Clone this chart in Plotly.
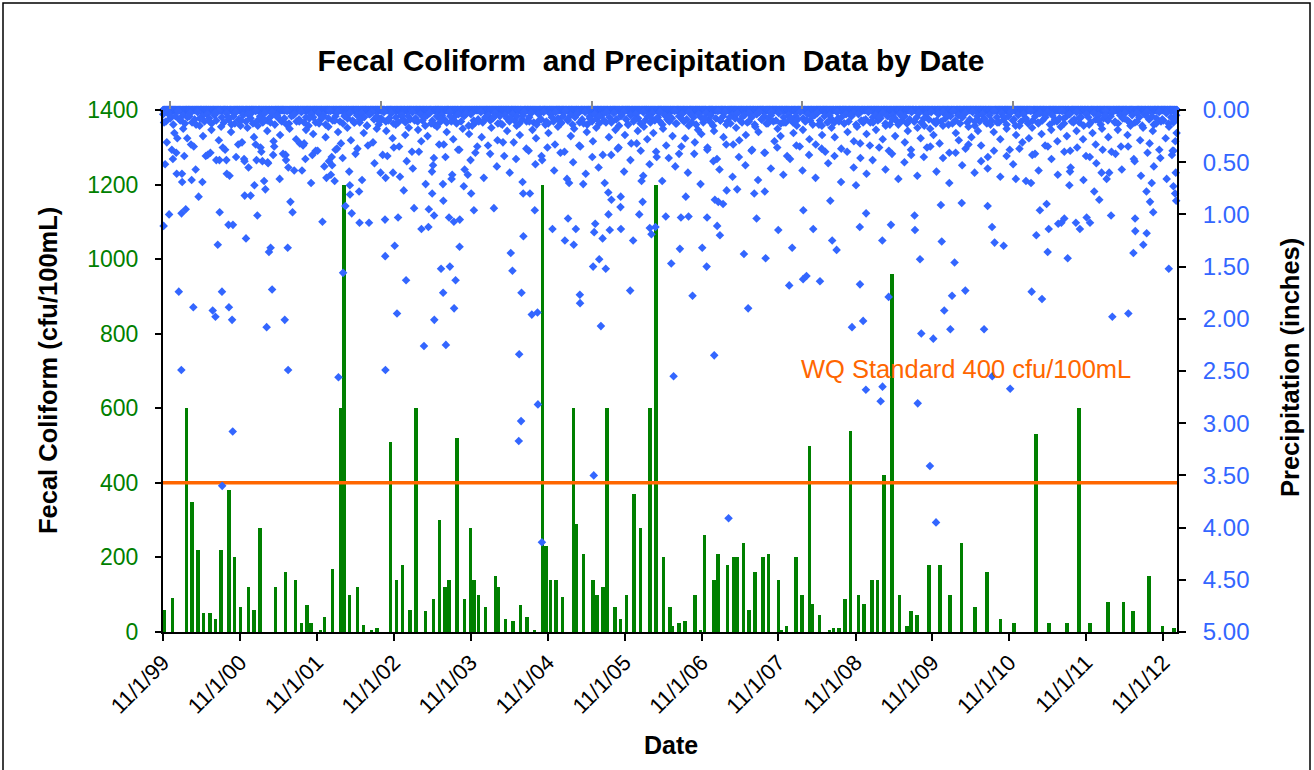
import pandas as pd
import plotly.graph_objects as go

# ---------------- DATA ----------------
# Fecal coliform samples (cfu/100mL)
fc_dates = [
    "1999-11-09", "1999-12-16", "2000-02-20", "2000-03-18", "2000-04-14", "2000-05-12", "2000-06-10", "2000-07-07", "2000-08-02", "2000-09-09",
    "2000-10-06", "2000-11-03", "2000-12-11", "2001-01-07", "2001-02-04", "2001-04-19", "2001-06-04", "2001-07-22", "2001-08-19", "2001-09-15",
    "2001-10-04", "2001-11-17", "2001-12-06", "2002-01-13", "2002-02-20", "2002-03-08", "2002-04-05", "2002-05-12", "2002-06-09", "2002-07-17",
    "2002-08-13", "2002-10-17", "2002-11-13", "2002-12-12", "2003-01-17", "2003-02-14", "2003-04-01", "2003-05-08", "2003-06-05", "2003-07-02",
    "2003-07-21", "2003-08-28", "2003-10-03", "2003-10-30", "2003-11-16", "2003-12-07", "2004-01-10", "2004-02-27", "2004-03-12", "2004-04-14",
    "2004-05-19", "2004-06-25", "2004-07-25", "2004-08-30", "2004-10-06", "2004-10-22", "2004-11-13", "2004-12-11", "2005-01-09", "2005-03-03",
    "2005-03-14", "2005-04-19", "2005-06-04", "2005-06-23", "2005-07-22", "2005-08-08", "2005-09-15", "2005-10-12", "2005-11-10", "2005-12-15",
    "2006-01-14", "2006-03-01", "2006-03-30", "2006-05-05", "2006-06-03", "2006-06-14", "2006-07-18", "2006-08-14", "2006-09-30", "2006-10-27",
    "2006-11-15", "2006-12-31", "2007-01-19", "2007-03-04", "2007-04-03", "2007-04-21", "2007-05-19", "2007-06-15", "2007-07-13", "2007-08-20",
    "2007-09-15", "2007-11-01", "2007-11-12", "2007-12-09", "2008-01-22", "2008-02-20", "2008-03-28", "2008-04-08", "2008-05-13", "2008-06-30",
    "2008-07-19", "2008-08-15", "2008-09-11", "2008-10-07", "2008-11-14", "2008-12-11", "2009-01-18", "2009-02-14", "2009-03-15", "2009-04-22",
    "2009-05-28", "2009-07-04", "2009-07-23", "2009-08-19", "2009-10-15", "2009-12-08", "2010-01-23", "2010-03-19", "2010-05-23", "2010-07-17",
    "2010-09-20", "2010-11-24", "2011-03-07", "2011-05-09", "2011-08-01", "2011-09-27", "2011-11-20", "2012-02-12", "2012-04-25", "2012-06-10",
    "2012-08-25", "2012-10-28", "2012-12-22",
]
fc_values = [
    60, 90, 600, 350, 220, 50, 50, 36, 220, 380,
    200, 66, 120, 60, 280, 120, 160, 140, 25, 72,
    25, 5, 40, 170, 600, 1200, 100, 120, 20, 5,
    10, 510, 140, 180, 60, 600, 56, 88, 300, 120,
    140, 520, 88, 280, 140, 100, 66, 150, 120, 36,
    30, 72, 40, 5, 1200, 230, 140, 140, 94, 600,
    290, 210, 140, 100, 120, 600, 66, 36, 100, 370,
    280, 600, 1200, 200, 66, 15, 25, 30, 100, 5,
    260, 140, 210, 180, 200, 200, 240, 60, 160, 200,
    210, 140, 5, 15, 200, 100, 500, 75, 45, 5,
    10, 10, 88, 540, 100, 75, 140, 140, 420, 960,
    100, 15, 56, 45, 180, 180, 100, 240, 66, 160,
    36, 25, 530, 25, 25, 600, 25, 80, 80, 55,
    150, 15, 10,
]

# Daily precipitation (inches); dates kept as Excel serial day numbers
rain_serial = [
    36468, 36494, 36540, 36552, 36512, 36533, 36555, 36556, 36553, 36573,
    36601, 36609, 36634, 36677, 36701, 36714, 36725, 36734, 36745, 36746,
    36733, 36766, 36768, 36776, 36797, 36778, 36793, 36796, 36852, 36853,
    36881, 36859, 36909, 36905, 36937, 36913, 36945, 36951, 36957, 36964,
    36968, 36976, 36983, 36988, 37043, 37049, 37060, 37057, 37059, 37070,
    37080, 37125, 37135, 37174, 37222, 37241, 37280, 37253, 37268, 37284,
    37298, 37320, 37331, 37352, 37353, 37361, 37396, 37398, 37443, 37519,
    37520, 37521, 37522, 37565, 37576, 37581, 37557, 37608, 37619, 37657,
    37692, 37725, 37704, 37727, 37752, 37753, 37742, 37743, 37785, 37795,
    37794, 37796, 37808, 37827, 37835, 37823, 37846, 37874, 37847, 37854,
    37873, 37893, 37912, 37928, 37941, 38036, 38175, 38207, 38116, 38124,
    38167, 38176, 38156, 38165, 38154, 38216, 38243, 38230, 38245, 38264,
    38314, 38373, 38388, 38415, 38425, 38393, 38460, 38444, 38445, 38510,
    38507, 38536, 38567, 38544, 38517, 38512, 38552, 38580, 38586, 38639,
    38579, 38594, 38638, 38637, 38683, 38697, 38726, 38742, 38737, 38776,
    38784, 38803, 38852, 38878, 38889, 38919, 38924, 38960, 38947, 38979,
    39025, 39046, 39048, 39082, 39096, 39109, 39085, 39101, 39124, 39150,
    39141, 39191, 39223, 39243, 39272, 39283, 39326, 39322, 39386, 39452,
    39438, 39504, 39520, 39584, 39552, 39505, 39633, 39642, 39663, 39736,
    39789, 39774, 39802, 39881, 39872, 39773, 39803, 39755, 39880, 39921,
    39910, 40048, 40059, 40065, 40033, 40035, 40106, 40122, 40135, 40162,
    40158, 40174, 40203, 40211, 40223, 40257, 40274, 40363, 40380, 40401,
    40402, 40413, 40456, 40487, 40589, 40638, 40611, 40665, 40670, 40628,
    40715, 40760, 40660, 40730, 40744, 40818, 40799, 40850, 40866, 40966,
    40972, 41048, 41072, 41080, 41081, 41119, 41135, 41240, 41262, 41270,
    41275, 41273, 41263, 41159, 41134, 41151, 41166, 40886, 40910, 40945,
    40921, 40768, 40771, 40514, 40586,
]
rain_inches = [
    1.11, 1.00, 1.74, 2.49, 0.47, 0.27, 0.61, 0.69, 0.99, 0.95,
    0.67, 1.89, 0.83, 0.43, 1.92, 1.98, 1.29, 0.98, 1.74, 3.60,
    0.48, 0.48, 0.61, 1.10, 1.10, 1.89, 2.01, 3.08, 0.49, 0.82,
    0.82, 1.23, 0.48, 0.33, 0.49, 1.01, 0.68, 0.76, 2.08, 0.51,
    1.36, 1.32, 1.72, 0.43, 2.01, 0.48, 0.55, 1.32, 2.49, 0.88,
    0.98, 0.58, 0.32, 0.43, 1.07, 0.65, 0.68, 0.49, 0.53, 0.38,
    2.56, 1.56, 0.92, 0.72, 0.81, 0.99, 0.78, 1.08, 1.08, 1.05,
    1.40, 2.49, 0.65, 1.30, 1.95, 1.03, 0.60, 0.77, 1.63, 0.94,
    1.14, 1.12, 2.26, 0.95, 1.01, 2.01, 0.59, 0.80, 1.52, 1.75,
    0.71, 0.87, 2.25, 1.50, 0.66, 1.03, 1.07, 1.05, 1.90, 1.63,
    1.31, 0.73, 0.62, 0.80, 0.96, 0.94, 0.80, 0.80, 1.37, 1.54,
    1.75, 1.21, 2.34, 2.98, 3.17, 1.96, 1.94, 0.96, 2.82, 4.14,
    1.14, 1.25, 1.04, 1.29, 1.14, 0.70, 0.71, 1.77, 1.85, 3.50,
    1.50, 1.43, 1.52, 2.07, 1.09, 1.17, 1.23, 1.00, 1.15, 1.14,
    0.79, 0.86, 0.83, 0.93, 1.73, 1.25, 1.00, 0.88, 0.68, 1.13,
    1.19, 1.12, 1.02, 1.47, 2.55, 1.33, 1.03, 1.02, 0.83, 1.78,
    1.32, 1.50, 1.03, 2.35, 1.11, 1.20, 0.86, 0.88, 0.90, 3.91,
    0.77, 0.76, 1.38, 1.90, 0.80, 1.04, 1.42, 0.78, 1.15, 1.32,
    1.68, 1.62, 1.59, 1.64, 1.14, 0.96, 0.87, 1.25, 1.34, 2.08,
    2.02, 1.67, 2.68, 2.65, 2.79, 1.12, 0.99, 0.72, 1.25, 1.10,
    1.79, 2.81, 1.43, 2.14, 1.01, 1.15, 3.41, 2.19, 3.95, 1.26,
    0.91, 1.92, 2.10, 1.78, 1.46, 0.89, 1.73, 2.10, 0.92, 1.12,
    2.55, 1.27, 1.30, 2.67, 1.74, 1.81, 1.20, 1.36, 1.14, 0.96,
    1.09, 1.42, 0.90, 1.08, 1.04, 1.14, 1.08, 1.03, 1.08, 1.01,
    1.98, 1.95, 1.37, 1.04, 1.16, 1.29, 1.18, 1.52, 0.73, 0.80,
    0.87, 0.60, 0.39, 0.70, 0.78, 0.88, 0.98, 0.78, 0.86, 0.66,
    0.60, 0.72, 0.59, 0.66, 0.70,
]

# Moderate-rain days (0.3 - 0.75 in)
moderate_serial = [
    36475, 36507, 36530, 36566, 36598, 36620, 36652, 36690, 36718, 36749,
    36781, 36812, 36840, 36871, 36899, 36932, 36962, 36993, 37019, 37047,
    37088, 37115, 37141, 37168, 37199, 37231, 37262, 37291, 37318, 37349,
    37379, 37410, 37438, 37469, 37498, 37530, 37561, 37590, 37622, 37651,
    37680, 37712, 37747, 37776, 37806, 37838, 37866, 37897, 37925, 37957,
    37988, 38018, 38050, 38079, 38111, 38141, 38172, 38201, 38233, 38262,
    38290, 38322, 38352, 38383, 38412, 38441, 38472, 38503, 38533, 38562,
    38593, 38624, 38654, 38684, 38714, 38745, 38775, 38806, 38835, 38866,
    38897, 38926, 38957, 38987, 39017, 39049, 39078, 39107, 39139, 39169,
    39199, 39230, 39259, 39290, 39320, 39351, 39381, 39410, 39442, 39472,
    39501, 39532, 39563, 39592, 39623, 39653, 39684, 39713, 39744, 39775,
    39805, 39834, 39865, 39895, 39926, 39956, 39985, 40016, 40046, 40077,
    40108, 40137, 40168, 40198, 40228, 40259, 40289, 40318, 40349, 40380,
    40410, 40440, 40470, 40501, 40531, 40562, 40592, 40622, 40653, 40683,
    40713, 40744, 40774, 40805, 40835, 40865, 40896, 40926, 40957, 40987,
    41017, 41047, 41078, 41108, 41139, 41169, 41200, 41230, 41258,
]
moderate_inches = [
    0.52, 0.38, 0.61, 0.44, 0.33, 0.57, 0.69, 0.41, 0.48, 0.36,
    0.63, 0.45, 0.31, 0.55, 0.72, 0.40, 0.50, 0.35, 0.66, 0.43,
    0.58, 0.32, 0.47, 0.70, 0.39, 0.54, 0.62, 0.37, 0.46, 0.59,
    0.42, 0.67, 0.34, 0.51, 0.60, 0.44, 0.36, 0.64, 0.49, 0.56,
    0.40, 0.71, 0.53, 0.33, 0.45, 0.62, 0.38, 0.57, 0.48, 0.35,
    0.65, 0.42, 0.54, 0.31, 0.60, 0.47, 0.69, 0.39, 0.52, 0.44,
    0.36, 0.58, 0.41, 0.66, 0.50, 0.34, 0.61, 0.45, 0.55, 0.70,
    0.43, 0.37, 0.59, 0.48, 0.32, 0.63, 0.52, 0.40, 0.68, 0.46,
    0.54, 0.35, 0.60, 0.42, 0.71, 0.38, 0.49, 0.57, 0.33, 0.64,
    0.45, 0.53, 0.39, 0.67, 0.41, 0.56, 0.36, 0.62, 0.47, 0.34,
    0.58, 0.43, 0.65, 0.37, 0.51, 0.44, 0.69, 0.40, 0.55, 0.32,
    0.61, 0.48, 0.36, 0.57, 0.42, 0.66, 0.50, 0.38, 0.63, 0.45,
    0.35, 0.59, 0.46, 0.70, 0.41, 0.53, 0.33, 0.60, 0.49, 0.56,
    0.39, 0.64, 0.44, 0.52, 0.37, 0.68, 0.43, 0.58, 0.34, 0.47,
    0.62, 0.40, 0.55, 0.36, 0.67, 0.45, 0.51, 0.38, 0.60, 0.42,
    0.57, 0.35, 0.49, 0.63, 0.41, 0.54, 0.46, 0.66, 0.39,
]

# Light-rain days forming the fringe below 0.00
light_serial = [
    36470, 36483, 36497, 36519, 36528, 36545, 36561, 36580, 36590, 36611,
    36622, 36640, 36655, 36668, 36686, 36695, 36712, 36730, 36741, 36760,
    36775, 36788, 36806, 36822, 36835, 36850, 36866, 36880, 36897, 36915,
    36928, 36944, 36960, 36975, 36990, 37004, 37021, 37035, 37052, 37066,
    37083, 37097, 37112, 37130, 37144, 37160, 37178, 37190, 37206, 37221,
    37237, 37250, 37266, 37281, 37296, 37310, 37327, 37340, 37357, 37372,
    37388, 37401, 37418, 37433, 37447, 37462, 37480, 37494, 37508, 37525,
    37539, 37555, 37570, 37586, 37600, 37615, 37632, 37647, 37660, 37676,
    37691, 37707, 37721, 37738, 37751, 37766, 37783, 37798, 37812, 37829,
    37843, 37857, 37872, 37888, 37903, 37918, 37933, 37948, 37964, 37978,
    37993, 38008, 38024, 38039, 38053, 38068, 38085, 38099, 38114, 38130,
    38144, 38159, 38174, 38190, 38204, 38219, 38236, 38250, 38265, 38280,
    38295, 38311, 38326, 38340, 38356, 38371, 38386, 38401, 38417, 38431,
    38446, 38462, 38477, 38491, 38506, 38522, 38537, 38553, 38568, 38582,
    38597, 38613, 38628, 38642, 38658, 38673, 38688, 38703, 38719, 38733,
    38748, 38764, 38779, 38793, 38809, 38824, 38839, 38854, 38870, 38884,
    38899, 38915, 38930, 38944, 38961, 38975, 38990, 39005, 39021, 39035,
    39050, 39066, 39081, 39095, 39111, 39126, 39140, 39156, 39172, 39186,
    39201, 39217, 39232, 39246, 39262, 39277, 39292, 39307, 39323, 39337,
    39352, 39368, 39383, 39397, 39413, 39428, 39443, 39458, 39474, 39488,
    39503, 39519, 39534, 39548, 39564, 39579, 39594, 39609, 39625, 39639,
    39654, 39670, 39685, 39699, 39715, 39730, 39745, 39760, 39776, 39790,
    39805, 39821, 39836, 39850, 39866, 39882, 39896, 39911, 39927, 39941,
    39956, 39972, 39987, 40001, 40017, 40032, 40047, 40062, 40078, 40092,
    40107, 40123, 40138, 40152, 40168, 40183, 40198, 40213, 40229, 40243,
    40258, 40275, 40289, 40303, 40319, 40334, 40349, 40364, 40381, 40394,
    40409, 40425, 40440, 40454, 40470, 40485, 40500, 40515, 40531, 40545,
    40560, 40576, 40591, 40605, 40621, 40636, 40651, 40666, 40682, 40696,
    40711, 40727, 40742, 40756, 40772, 40787, 40802, 40817, 40833, 40847,
    40862, 40878, 40893, 40907, 40923, 40938, 40953, 40968, 40984, 40998,
    41013, 41029, 41044, 41058, 41074, 41089, 41104, 41118, 41136, 41149,
    41164, 41180, 41195, 41209, 41225, 41241, 41255, 41268, 41277, 41271,
]
light_inches = [
    0.12, 0.31, 0.05, 0.22, 0.41, 0.09, 0.18, 0.27, 0.06, 0.35,
    0.14, 0.08, 0.25, 0.44, 0.11, 0.19, 0.03, 0.29, 0.16, 0.38,
    0.07, 0.21, 0.13, 0.33, 0.10, 0.47, 0.17, 0.04, 0.26, 0.15,
    0.36, 0.09, 0.20, 0.12, 0.30, 0.06, 0.24, 0.42, 0.14, 0.18,
    0.05, 0.28, 0.11, 0.34, 0.19, 0.08, 0.23, 0.39, 0.13, 0.07,
    0.26, 0.16, 0.45, 0.10, 0.21, 0.32, 0.06, 0.17, 0.29, 0.12,
    0.37, 0.09, 0.22, 0.15, 0.04, 0.31, 0.18, 0.11, 0.43, 0.20,
    0.08, 0.27, 0.14, 0.35, 0.05, 0.24, 0.17, 0.40, 0.10, 0.19,
    0.30, 0.07, 0.25, 0.13, 0.46, 0.16, 0.09, 0.33, 0.21, 0.06,
    0.28, 0.12, 0.38, 0.18, 0.04, 0.23, 0.15, 0.41, 0.11, 0.26,
    0.09, 0.34, 0.17, 0.06, 0.29, 0.13, 0.44, 0.20, 0.08, 0.31,
    0.15, 0.24, 0.05, 0.37, 0.11, 0.19, 0.27, 0.10, 0.48, 0.14,
    0.22, 0.07, 0.33, 0.16, 0.12, 0.40, 0.09, 0.25, 0.18, 0.04,
    0.35, 0.13, 0.21, 0.08, 0.30, 0.17, 0.06, 0.43, 0.12, 0.26,
    0.10, 0.19, 0.36, 0.05, 0.24, 0.14, 0.32, 0.09, 0.20, 0.39,
    0.16, 0.28, 0.07, 0.22, 0.45, 0.11, 0.18, 0.34, 0.06, 0.25,
    0.13, 0.42, 0.09, 0.27, 0.15, 0.05, 0.31, 0.19, 0.23, 0.08,
    0.36, 0.12, 0.20, 0.47, 0.10, 0.26, 0.14, 0.07, 0.33, 0.17,
    0.29, 0.06, 0.24, 0.11, 0.38, 0.16, 0.21, 0.09, 0.41, 0.13,
    0.05, 0.30, 0.18, 0.25, 0.12, 0.44, 0.08, 0.22, 0.15, 0.35,
    0.19, 0.10, 0.28, 0.06, 0.33, 0.14, 0.24, 0.40, 0.11, 0.17,
    0.26, 0.08, 0.37, 0.13, 0.21, 0.05, 0.30, 0.16, 0.46, 0.10,
    0.23, 0.34, 0.12, 0.19, 0.07, 0.28, 0.15, 0.39, 0.09, 0.25,
    0.14, 0.06, 0.31, 0.20, 0.43, 0.11, 0.17, 0.27, 0.08, 0.36,
    0.18, 0.24, 0.10, 0.32, 0.15, 0.05, 0.41, 0.13, 0.22, 0.29,
    0.07, 0.37, 0.16, 0.26, 0.11, 0.20, 0.34, 0.09, 0.45, 0.14,
    0.21, 0.12, 0.28, 0.06, 0.18, 0.38, 0.10, 0.24, 0.15, 0.31,
    0.09, 0.27, 0.17, 0.42, 0.13, 0.23, 0.05, 0.35, 0.19, 0.11,
    0.30, 0.16, 0.08, 0.25, 0.39, 0.12, 0.20, 0.07, 0.28, 0.44,
    0.14, 0.22, 0.33, 0.10, 0.18, 0.05, 0.26, 0.40, 0.12, 0.19,
    0.35, 0.08, 0.24, 0.15, 0.47, 0.11, 0.29, 0.17, 0.06, 0.32,
    0.20, 0.13, 0.38, 0.09, 0.27, 0.16, 0.43, 0.10, 0.22, 0.30,
]

# Trace-rain days (very small amounts) that thicken the band at 0.00
trace_serial = [
    36466, 36479, 36488, 36500, 36514, 36524, 36536, 36547, 36560, 36569,
    36581, 36594, 36603, 36615, 36629, 36639, 36651, 36662, 36675, 36684,
    36696, 36709, 36718, 36730, 36744, 36754, 36766, 36777, 36790, 36799,
    36811, 36824, 36833, 36845, 36859, 36869, 36881, 36892, 36905, 36914,
    36926, 36939, 36948, 36960, 36974, 36984, 36996, 37007, 37020, 37029,
    37041, 37054, 37063, 37075, 37089, 37099, 37111, 37122, 37135, 37144,
    37156, 37169, 37178, 37190, 37204, 37214, 37226, 37237, 37250, 37259,
    37271, 37284, 37293, 37305, 37319, 37329, 37341, 37352, 37365, 37374,
    37386, 37399, 37408, 37420, 37434, 37444, 37456, 37467, 37480, 37489,
    37501, 37514, 37523, 37535, 37549, 37559, 37571, 37582, 37595, 37604,
    37616, 37629, 37638, 37650, 37664, 37674, 37686, 37697, 37710, 37719,
    37731, 37744, 37753, 37765, 37779, 37789, 37801, 37812, 37825, 37834,
    37846, 37859, 37868, 37880, 37894, 37904, 37916, 37927, 37940, 37949,
    37961, 37974, 37983, 37995, 38009, 38019, 38031, 38042, 38055, 38064,
    38076, 38089, 38098, 38110, 38124, 38134, 38146, 38157, 38170, 38179,
    38191, 38204, 38213, 38225, 38239, 38249, 38261, 38272, 38285, 38294,
    38306, 38319, 38328, 38340, 38354, 38364, 38376, 38387, 38400, 38409,
    38421, 38434, 38443, 38455, 38469, 38479, 38491, 38502, 38515, 38524,
    38536, 38549, 38558, 38570, 38584, 38594, 38606, 38617, 38630, 38639,
    38651, 38664, 38673, 38685, 38699, 38709, 38721, 38732, 38745, 38754,
    38766, 38779, 38788, 38800, 38814, 38824, 38836, 38847, 38860, 38869,
    38881, 38894, 38903, 38915, 38929, 38939, 38951, 38962, 38975, 38984,
    38996, 39009, 39018, 39030, 39044, 39054, 39066, 39077, 39090, 39099,
    39111, 39124, 39133, 39145, 39159, 39169, 39181, 39192, 39205, 39214,
    39226, 39239, 39248, 39260, 39274, 39284, 39296, 39307, 39320, 39329,
    39341, 39354, 39363, 39375, 39389, 39399, 39411, 39422, 39435, 39444,
    39456, 39469, 39478, 39490, 39504, 39514, 39526, 39537, 39550, 39559,
    39571, 39584, 39593, 39605, 39619, 39629, 39641, 39652, 39665, 39674,
    39686, 39699, 39708, 39720, 39734, 39744, 39756, 39767, 39780, 39789,
    39801, 39814, 39823, 39835, 39849, 39859, 39871, 39882, 39895, 39904,
    39916, 39929, 39938, 39950, 39964, 39974, 39986, 39997, 40010, 40019,
    40031, 40044, 40053, 40065, 40079, 40089, 40101, 40112, 40125, 40134,
    40146, 40159, 40168, 40180, 40194, 40204, 40216, 40227, 40240, 40249,
    40261, 40274, 40283, 40295, 40309, 40319, 40331, 40342, 40355, 40364,
    40376, 40389, 40398, 40410, 40424, 40434, 40446, 40457, 40470, 40479,
    40491, 40504, 40513, 40525, 40539, 40549, 40561, 40572, 40585, 40594,
    40606, 40619, 40628, 40640, 40654, 40664, 40676, 40687, 40700, 40709,
    40721, 40734, 40743, 40755, 40769, 40779, 40791, 40802, 40815, 40824,
    40836, 40849, 40858, 40870, 40884, 40894, 40906, 40917, 40930, 40939,
    40951, 40964, 40973, 40985, 40999, 41009, 41021, 41032, 41045, 41054,
    41066, 41079, 41088, 41100, 41114, 41124, 41136, 41147, 41160, 41169,
    41181, 41194, 41203, 41215, 41229, 41239, 41251, 41262, 41275,
]
trace_inches = [
    0.04, 0.11, 0.02, 0.08, 0.14, 0.06, 0.01, 0.10, 0.05, 0.13,
    0.07, 0.03, 0.12, 0.09, 0.02, 0.15, 0.06, 0.11, 0.04, 0.08,
    0.13, 0.05, 0.10, 0.01, 0.07, 0.12, 0.03, 0.09, 0.14, 0.06,
    0.02, 0.09, 0.15, 0.05, 0.11, 0.04, 0.08, 0.13, 0.01, 0.10,
    0.06, 0.12, 0.03, 0.10, 0.07, 0.02, 0.14, 0.05, 0.09, 0.11,
    0.08, 0.01, 0.13, 0.06, 0.04, 0.11, 0.09, 0.02, 0.12, 0.07,
    0.15, 0.04, 0.07, 0.12, 0.03, 0.09, 0.05, 0.14, 0.08, 0.01,
    0.10, 0.06, 0.02, 0.11, 0.13, 0.05, 0.08, 0.03, 0.10, 0.12,
    0.05, 0.12, 0.03, 0.07, 0.15, 0.04, 0.02, 0.09, 0.06, 0.14,
    0.08, 0.02, 0.11, 0.10, 0.03, 0.13, 0.07, 0.12, 0.05, 0.09,
    0.12, 0.06, 0.09, 0.02, 0.08, 0.11, 0.04, 0.10, 0.15, 0.05,
    0.03, 0.10, 0.14, 0.06, 0.12, 0.05, 0.09, 0.12, 0.02, 0.11,
    0.07, 0.13, 0.04, 0.11, 0.06, 0.03, 0.15, 0.04, 0.10, 0.12,
    0.09, 0.02, 0.12, 0.07, 0.05, 0.10, 0.08, 0.03, 0.13, 0.06,
    0.14, 0.05, 0.08, 0.11, 0.04, 0.10, 0.06, 0.13, 0.09, 0.02,
    0.11, 0.07, 0.03, 0.12, 0.14, 0.04, 0.09, 0.02, 0.11, 0.13,
    0.04, 0.11, 0.02, 0.08, 0.13, 0.06, 0.01, 0.10, 0.05, 0.14,
    0.07, 0.03, 0.12, 0.09, 0.02, 0.14, 0.06, 0.11, 0.04, 0.08,
    0.13, 0.05, 0.10, 0.02, 0.07, 0.12, 0.03, 0.09, 0.15, 0.06,
    0.02, 0.09, 0.14, 0.05, 0.11, 0.04, 0.08, 0.13, 0.02, 0.10,
    0.06, 0.12, 0.03, 0.10, 0.07, 0.02, 0.14, 0.05, 0.09, 0.11,
    0.08, 0.01, 0.13, 0.06, 0.04, 0.11, 0.09, 0.02, 0.12, 0.07,
    0.14, 0.04, 0.07, 0.12, 0.03, 0.09, 0.05, 0.15, 0.08, 0.01,
    0.10, 0.06, 0.02, 0.11, 0.13, 0.05, 0.08, 0.03, 0.10, 0.12,
    0.05, 0.12, 0.03, 0.07, 0.14, 0.04, 0.02, 0.09, 0.06, 0.13,
    0.08, 0.02, 0.11, 0.10, 0.03, 0.13, 0.07, 0.12, 0.05, 0.09,
    0.12, 0.06, 0.09, 0.02, 0.08, 0.11, 0.04, 0.10, 0.14, 0.05,
    0.03, 0.10, 0.15, 0.06, 0.12, 0.05, 0.09, 0.12, 0.02, 0.11,
    0.07, 0.13, 0.04, 0.11, 0.06, 0.03, 0.14, 0.04, 0.10, 0.12,
    0.09, 0.02, 0.12, 0.07, 0.05, 0.10, 0.08, 0.03, 0.13, 0.06,
    0.14, 0.05, 0.08, 0.11, 0.04, 0.10, 0.06, 0.13, 0.09, 0.02,
    0.11, 0.07, 0.03, 0.12, 0.15, 0.04, 0.09, 0.02, 0.11, 0.13,
    0.04, 0.11, 0.02, 0.08, 0.14, 0.06, 0.01, 0.10, 0.05, 0.13,
    0.07, 0.03, 0.12, 0.09, 0.02, 0.15, 0.06, 0.11, 0.04, 0.08,
    0.13, 0.05, 0.10, 0.01, 0.07, 0.12, 0.03, 0.09, 0.14, 0.06,
    0.02, 0.09, 0.15, 0.05, 0.11, 0.04, 0.08, 0.13, 0.01, 0.10,
    0.06, 0.12, 0.03, 0.10, 0.07, 0.02, 0.14, 0.05, 0.09, 0.11,
    0.08, 0.01, 0.13, 0.06, 0.04, 0.11, 0.09, 0.02, 0.12, 0.07,
    0.15, 0.04, 0.07, 0.12, 0.03, 0.09, 0.05, 0.14, 0.08, 0.01,
    0.10, 0.06, 0.02, 0.11, 0.13, 0.05, 0.08, 0.03, 0.10, 0.12,
    0.05, 0.12, 0.03, 0.07, 0.15, 0.04, 0.02, 0.09, 0.06, 0.14,
    0.08, 0.02, 0.11, 0.10, 0.03, 0.13, 0.07, 0.12, 0.05,
]

wq_standard = 400
record_start = "1999-11-01"
record_end = "2013-01-05"
excel_epoch = "1899-12-30"

assert len(fc_dates) == len(fc_values)
assert len(rain_serial) == len(rain_inches)
assert len(moderate_serial) == len(moderate_inches)
assert len(light_serial) == len(light_inches)
assert len(trace_serial) == len(trace_inches)

# ---------------- PREP ----------------
def to_dates(serials):
    return pd.to_datetime(serials, unit="D", origin=excel_epoch)

rain_dates = to_dates(rain_serial)
moderate_dates = to_dates(moderate_serial)
light_dates = to_dates(light_serial)
trace_dates = to_dates(trace_serial)
all_days = pd.date_range(record_start, record_end, freq="D")
wet_days = set(rain_dates) | set(moderate_dates) | set(light_dates) | set(trace_dates)
dry_days = [d for d in all_days if d not in wet_days]
dry_inches = [0.0] * len(dry_days)

BLUE = "#3366FF"
GREEN = "#008000"
ORANGE = "#FF6600"
FONT = "Liberation Sans, Arial, sans-serif"
DAY_MS = 86400000

fig = go.Figure()

fig.add_trace(go.Bar(
    x=pd.to_datetime(fc_dates), y=fc_values,
    marker=dict(color=GREEN, line=dict(width=0)),
    width=17 * DAY_MS, xaxis="x", yaxis="y", name="Fecal Coliform",
))

fig.add_trace(go.Scatter(
    x=[pd.Timestamp(record_start), pd.Timestamp(record_end)],
    y=[wq_standard, wq_standard], mode="lines",
    line=dict(color=ORANGE, width=3.5), xaxis="x", yaxis="y",
    name="WQ Standard", hoverinfo="skip",
))

marker = dict(symbol="diamond", size=6.6, color=BLUE, line=dict(width=0))
for xs, ys in ((dry_days, dry_inches), (trace_dates, trace_inches),
               (light_dates, light_inches), (moderate_dates, moderate_inches),
               (rain_dates, rain_inches)):
    fig.add_trace(go.Scatter(
        x=xs, y=ys, mode="markers", marker=marker,
        xaxis="x2", yaxis="y2", cliponaxis=False, name="Precipitation",
    ))

x_range = [record_start, record_end]

fig.update_layout(
    width=1314, height=770,
    margin=dict(l=163, r=137, t=110, b=138),
    paper_bgcolor="white", plot_bgcolor="white",
    showlegend=False,
    font=dict(family=FONT, color="black"),
    bargap=0,
    title=dict(
        text="<b>Fecal Coliform\u00a0 and Precipitation\u00a0 Data by Date</b>",
        font=dict(size=30, family=FONT, color="black"),
        x=651 / 1314, xanchor="center", xref="container",
        y=1 - 60 / 770, yanchor="middle", yref="container",
    ),
    xaxis=dict(
        type="date", range=x_range, tick0=record_start, dtick="M12",
        tickformat="%-m/%-d/%y", tickangle=-45,
        tickfont=dict(size=22, color="black"),
        ticks="outside", ticklen=7, tickwidth=2, tickcolor="black",
        showline=True, linewidth=2, linecolor="black",
        showgrid=False, zeroline=False,
    ),
    xaxis2=dict(
        type="date", range=x_range, overlaying="x", side="top", anchor="y2",
        tick0="1999-12-06", dtick=1000 * DAY_MS,
        ticks="outside", ticklen=8, tickwidth=1.5, tickcolor="#8c8c8c",
        showticklabels=False, showline=False,
        showgrid=False, zeroline=False, layer="above traces",
    ),
    yaxis=dict(
        range=[0, 1400], dtick=200, tick0=0,
        tickfont=dict(size=23, color=GREEN),
        ticks="outside", ticklen=6, tickwidth=2, tickcolor="black",
        ticklabelstandoff=12,
        showline=True, linewidth=2, linecolor="black",
        showgrid=False, zeroline=False,
    ),
    yaxis2=dict(
        range=[5, 0], dtick=0.5, tick0=0, tickformat=".2f",
        overlaying="y", side="right", anchor="x2",
        tickfont=dict(size=24, color=BLUE),
        ticks="outside", ticklen=7, tickwidth=2, tickcolor="black",
        ticklabelstandoff=12,
        showline=True, linewidth=2, linecolor="black",
        showgrid=False, zeroline=False,
    ),
    yaxis3=dict(
        range=[5, 0], dtick=0.5, tick0=0,
        overlaying="y", side="right", anchor="x",
        ticks="inside", ticklen=7, tickwidth=2, tickcolor="black",
        showticklabels=False, showline=False, showgrid=False, zeroline=False,
    ),
)

W, H = 1014.0, 522.0  # plot area size in px (for paper-relative placement)

fig.add_annotation(
    text="<b>Fecal Coliform (cfu/100mL)</b>", textangle=-90,
    xref="paper", yref="paper", x=(48 - 163) / W, y=(632 - 371) / H,
    xanchor="center", yanchor="middle", showarrow=False,
    font=dict(size=25.5, family=FONT, color="black"),
)
fig.add_annotation(
    text="<b>Precipitation (inches)</b>", textangle=-90,
    xref="paper", yref="paper", x=(1290 - 163) / W, y=(632 - 368) / H,
    xanchor="center", yanchor="middle", showarrow=False,
    font=dict(size=25.5, family=FONT, color="black"),
)
fig.add_annotation(
    text="<b>Date</b>",
    xref="paper", yref="paper", x=(671 - 163) / W, y=(632 - 745) / H,
    xanchor="center", yanchor="middle", showarrow=False,
    font=dict(size=25, family=FONT, color="black"),
)
fig.add_annotation(
    text="WQ Standard 400 cfu/100mL",
    xref="paper", yref="paper", x=(966 - 163) / W, y=(632 - 369) / H,
    xanchor="center", yanchor="middle", showarrow=False,
    font=dict(size=25.5, family=FONT, color=ORANGE),
)
fig.add_shape(
    type="rect", xref="paper", yref="paper",
    x0=(3 - 163) / W, x1=(1310 - 163) / W, y0=(632 - 775) / H, y1=(632 - 3) / H,
    line=dict(color="black", width=1.5), fillcolor="rgba(0,0,0,0)", layer="below",
)

fig.write_html(
    "out.html",
    config={"displayModeBar": False},
    post_script="document.body.style.margin='0px';",
)
